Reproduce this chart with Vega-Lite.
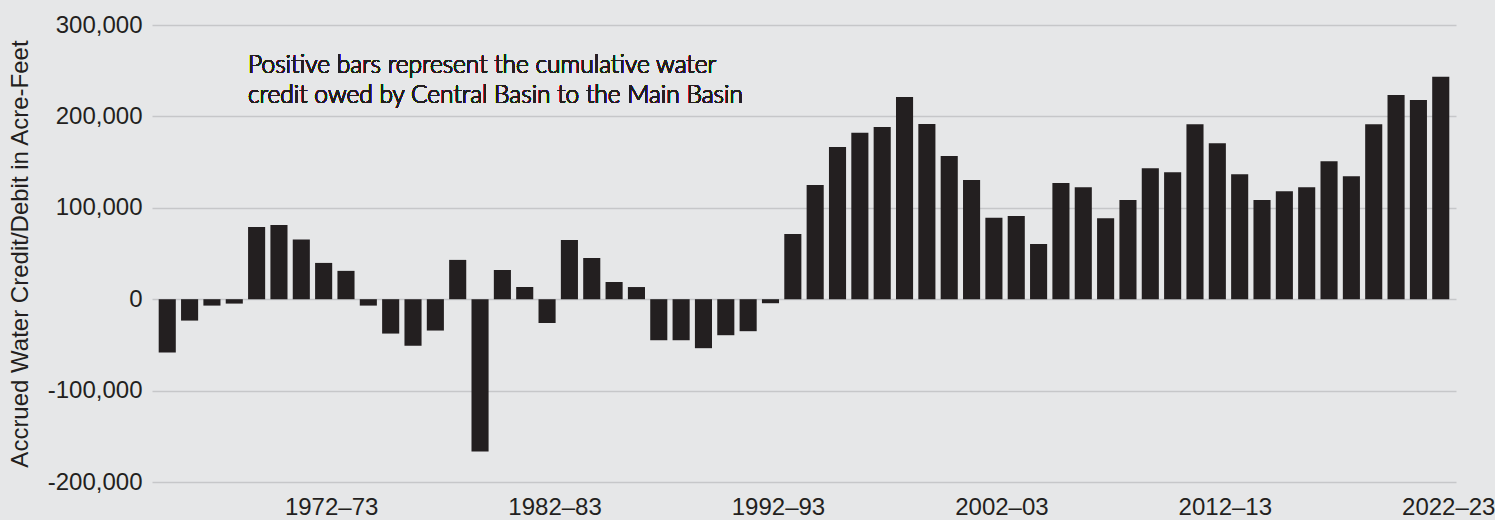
{
  "$schema": "https://vega.github.io/schema/vega-lite/v6.json",
  "width": 1304,
  "height": 457,
  "autosize": {"type": "none"},
  "padding": {"left": 152, "top": 25, "right": 39, "bottom": 38},
  "background": "#e6e7e8",
  "config": {"view": {"stroke": null}, "font": "Liberation Sans"},
  "data": {
    "values": [
      {"season": "1965–66", "value": -58400},
      {"season": "1966–67", "value": -23400},
      {"season": "1967–68", "value": -7000},
      {"season": "1968–69", "value": -4800},
      {"season": "1969–70", "value": 79000},
      {"season": "1970–71", "value": 81300},
      {"season": "1971–72", "value": 65200},
      {"season": "1972–73", "value": 39700},
      {"season": "1973–74", "value": 31000},
      {"season": "1974–75", "value": -7000},
      {"season": "1975–76", "value": -37600},
      {"season": "1976–77", "value": -50800},
      {"season": "1977–78", "value": -34300},
      {"season": "1978–79", "value": 43000},
      {"season": "1979–80", "value": -166700},
      {"season": "1980–81", "value": 32000},
      {"season": "1981–82", "value": 13300},
      {"season": "1982–83", "value": -26000},
      {"season": "1983–84", "value": 64900},
      {"season": "1984–85", "value": 45200},
      {"season": "1985–86", "value": 18800},
      {"season": "1986–87", "value": 13300},
      {"season": "1987–88", "value": -44900},
      {"season": "1988–89", "value": -44900},
      {"season": "1989–90", "value": -53600},
      {"season": "1990–91", "value": -39400},
      {"season": "1991–92", "value": -35000},
      {"season": "1992–93", "value": -4400},
      {"season": "1993–94", "value": 71400},
      {"season": "1994–95", "value": 125000},
      {"season": "1995–96", "value": 166600},
      {"season": "1996–97", "value": 182000},
      {"season": "1997–98", "value": 188500},
      {"season": "1998–99", "value": 221300},
      {"season": "1999–00", "value": 191800},
      {"season": "2000–01", "value": 156800},
      {"season": "2001–02", "value": 130500},
      {"season": "2002–03", "value": 89000},
      {"season": "2003–04", "value": 91000},
      {"season": "2004–05", "value": 60400},
      {"season": "2005–06", "value": 127000},
      {"season": "2006–07", "value": 122600},
      {"season": "2007–08", "value": 88600},
      {"season": "2008–09", "value": 108400},
      {"season": "2009–10", "value": 143400},
      {"season": "2010–11", "value": 139000},
      {"season": "2011–12", "value": 191500},
      {"season": "2012–13", "value": 170700},
      {"season": "2013–14", "value": 136800},
      {"season": "2014–15", "value": 108400},
      {"season": "2015–16", "value": 118200},
      {"season": "2016–17", "value": 122600},
      {"season": "2017–18", "value": 151000},
      {"season": "2018–19", "value": 134600},
      {"season": "2019–20", "value": 191500},
      {"season": "2020–21", "value": 223400},
      {"season": "2021–22", "value": 218000},
      {"season": "2022–23", "value": 243300}
    ]
  },
  "layer": [
    {
      "mark": {"type": "bar", "color": "#231f20"},
      "encoding": {
        "x": {
          "field": "season",
          "type": "ordinal",
          "sort": null,
          "scale": {"paddingInner": 0.235, "paddingOuter": 0.3},
          "axis": {
            "values": ["1972–73", "1982–83", "1992–93", "2002–03", "2012–13", "2022–23"],
            "title": null,
            "ticks": false,
            "tickSize": 0,
            "domain": false,
            "grid": false,
            "labelAngle": 0,
            "labelFont": "Liberation Sans",
            "labelFontSize": 24,
            "labelColor": "#231f20",
            "labelPadding": 13,
            "labelOffset": 8
          }
        },
        "y": {
          "field": "value",
          "type": "quantitative",
          "scale": {"domain": [-200000, 300000], "nice": false, "zero": false},
          "axis": {
            "values": [-200000, -100000, 0, 100000, 200000, 300000],
            "title": "Accrued Water Credit/Debit in Acre-Feet",
            "labelExpr": "datum.value < 0 ? '-' + format(-datum.value, ',') : format(datum.value, ',')",
            "grid": true,
            "gridColor": "#c6c7c9",
            "gridWidth": 1.5,
            "ticks": false,
            "tickSize": 0,
            "domain": false,
            "labelFont": "Liberation Sans",
            "labelFontSize": 24,
            "labelColor": "#231f20",
            "labelPadding": 10,
            "titleFont": "Liberation Sans",
            "titleFontSize": 24,
            "titleFontWeight": "normal",
            "titleColor": "#231f20",
            "titlePadding": 15
          }
        }
      }
    },
    {
      "mark": {
        "type": "text",
        "text": ["Positive bars represent the cumulative water", "credit owed by Central Basin to the Main Basin"],
        "align": "left",
        "baseline": "alphabetic",
        "font": "Lato",
        "fontWeight": 300,
        "fontSize": 24.5,
        "lineHeight": 30,
        "color": "#231f20"
      },
      "encoding": {
        "x": {"datum": "1969–70", "bandPosition": 0},
        "y": {"datum": 247500, "type": "quantitative"}
      }
    }
  ]
}
